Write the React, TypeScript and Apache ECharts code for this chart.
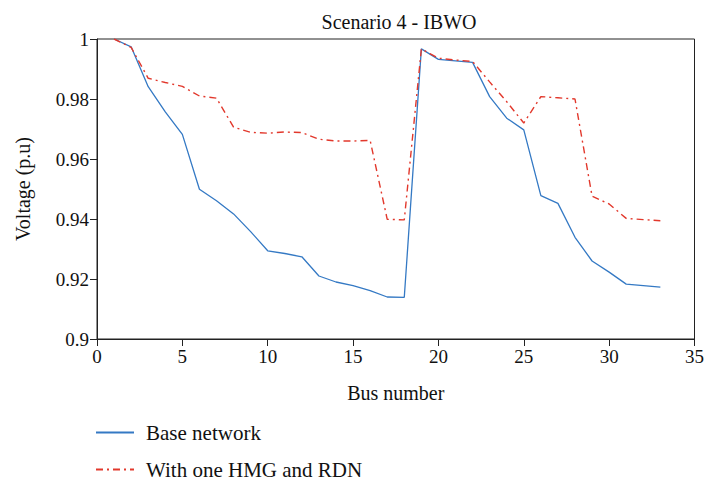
import React, { useEffect, useRef } from "react";
import * as echarts from "echarts";

const buses = [1, 2, 3, 4, 5, 6, 7, 8, 9, 10, 11, 12, 13, 14, 15, 16, 17, 18, 19, 20, 21, 22, 23, 24, 25, 26, 27, 28, 29, 30, 31, 32, 33];
const baseNetwork = [
  1.0, 0.9974, 0.9841, 0.9757, 0.9682, 0.9499, 0.9461, 0.9417, 0.9358, 0.9294,
  0.9285, 0.9274, 0.921, 0.919, 0.9178, 0.9161, 0.914, 0.9139, 0.9967, 0.9932,
  0.9927, 0.9922, 0.9808, 0.9736, 0.9697, 0.9478, 0.9452, 0.9339, 0.926, 0.9223,
  0.9183, 0.9178, 0.9173,
];
const withHmgRdn = [
  1.0, 0.9972, 0.9869, 0.9855, 0.9842, 0.981, 0.9803, 0.9706, 0.9689, 0.9686,
  0.969, 0.9688, 0.9666, 0.966, 0.966, 0.9662, 0.9399, 0.9397, 0.9967, 0.9936,
  0.993, 0.9925, 0.9857, 0.9791, 0.972, 0.9808, 0.9804, 0.98, 0.9476, 0.945,
  0.9402, 0.9398, 0.9394,
];
const seriesNames = ["Base network", "With one HMG and RDN"];
const titleText = "Scenario 4 - IBWO";
const xName = "Bus number";
const yName = "Voltage (p.u)";

const FONT = "'Liberation Serif', 'DejaVu Serif', serif";

export default function App() {
  const ref = useRef<HTMLDivElement>(null);
  useEffect(() => {
    if (!ref.current) return;
    const chart = echarts.init(ref.current, undefined, { renderer: "svg" });
    const axisColor = "#222";
    chart.setOption({
      animation: false,
      backgroundColor: "#fff",
      title: {
        text: titleText,
        left: 394,
        textAlign: "center",
        top: 7,
        textStyle: { fontFamily: FONT, fontSize: 20, fontWeight: "normal", color: "#111" },
      },
      grid: {
        left: 97,
        right: 11,
        top: 39,
        bottom: 143,
        show: true,
        borderColor: axisColor,
        borderWidth: 1,
        backgroundColor: "transparent",
      },
      legend: {
        orient: "vertical",
        left: 95,
        top: 422,
        padding: 0,
        itemWidth: 38,
        itemHeight: 12,
        itemGap: 16,
        itemStyle: { opacity: 0 },
        textStyle: { fontFamily: FONT, fontSize: 21, color: "#111", padding: [0, 0, 0, 7] },
        data: seriesNames,
      },
      xAxis: {
        type: "value",
        min: 0,
        max: 35,
        interval: 5,
        name: xName,
        nameLocation: "middle",
        nameGap: 44,
        nameTextStyle: { fontFamily: FONT, fontSize: 20, color: "#111" },
        axisLine: { show: true, lineStyle: { color: axisColor, width: 1 } },
        axisTick: { show: true, length: 7, lineStyle: { color: axisColor } },
        axisLabel: { fontFamily: FONT, fontSize: 19, color: "#111", margin: 8 },
        splitLine: { show: false },
      },
      yAxis: {
        type: "value",
        min: 0.9,
        max: 1,
        interval: 0.02,
        name: yName,
        nameLocation: "middle",
        nameGap: 64,
        nameTextStyle: { fontFamily: FONT, fontSize: 20, color: "#111" },
        axisLine: { show: true, lineStyle: { color: axisColor, width: 1 } },
        axisTick: { show: true, length: 7, lineStyle: { color: axisColor } },
        axisLabel: {
          fontFamily: FONT,
          fontSize: 19,
          color: "#111",
          margin: 8,
          formatter: (v: number) => String(parseFloat(v.toFixed(2))),
        },
        splitLine: { show: false },
      },
      series: [
        {
          name: seriesNames[0],
          type: "line",
          data: buses.map((b, i) => [b, baseNetwork[i]]),
          symbol: "none",
          showSymbol: false,
          color: "#3479c4",
          lineStyle: { color: "#3479c4", width: 1.3 },
        },
        {
          name: seriesNames[1],
          type: "line",
          data: buses.map((b, i) => [b, withHmgRdn[i]]),
          symbol: "none",
          showSymbol: false,
          color: "#e2382c",
          lineStyle: { color: "#e2382c", width: 1.4, type: [7, 4, 2, 4] },
        },
      ],
    });
    return () => chart.dispose();
  }, []);
  return <div ref={ref} style={{ width: 707, height: 482, position: "absolute", left: 0, top: 0 }} />;
}
